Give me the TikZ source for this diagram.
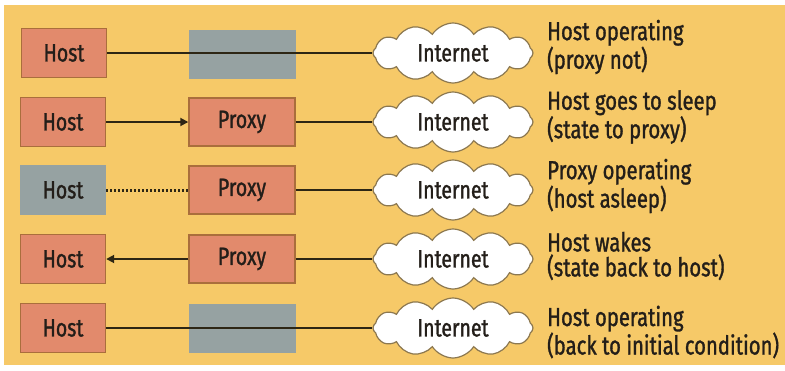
\documentclass[tikz,border=0pt]{standalone}
\usepackage{fontspec}
\setmainfont[FakeStretch=0.78,FakeBold=1.2]{Fira Sans}
\usetikzlibrary{shapes.symbols,arrows.meta}
\definecolor{bgyellow}{RGB}{246,201,104}
\definecolor{salmon}{RGB}{226,138,108}
\definecolor{salmonedge}{RGB}{170,110,60}
\definecolor{grayfill}{RGB}{150,162,162}
\definecolor{linecol}{RGB}{45,38,20}
\definecolor{cloudedge}{RGB}{140,120,80}
\definecolor{textcol}{RGB}{35,30,25}
\tikzset{
  boxfont/.style={font=\fontsize{25}{25}\selectfont, text=textcol},
  hostbox/.style={draw=salmonedge, line width=1.4pt, fill=salmon, minimum width=85pt, minimum height=49pt, inner sep=0pt, boxfont},
  proxybox/.style={draw=salmonedge, line width=1.4pt, fill=salmon, minimum width=106pt, minimum height=48pt, inner sep=0pt, boxfont},
  grayhost/.style={fill=grayfill, minimum width=86pt, minimum height=50pt, inner sep=0pt, boxfont},
  grayproxy/.style={fill=grayfill, minimum width=107pt, minimum height=49pt, inner sep=0pt},
  netcloud/.style={cloud, cloud puffs=12, cloud puff arc=115, aspect=2.7, draw=cloudedge, line width=1.2pt, fill=white, minimum width=160pt, minimum height=60pt, inner sep=0pt, boxfont},
  caption/.style={anchor=west, align=left, inner sep=0pt, font=\fontsize{26}{25}\selectfont, text=textcol},
  conn/.style={draw=linecol, line width=1.8pt},
  arr/.style={conn, -{Triangle[length=8pt,width=8pt]}},
  dotconn/.style={draw=linecol, line width=3pt, dash pattern=on 2pt off 2pt}
}
\begin{document}
\begin{tikzpicture}[x=1pt,y=-1pt]
\useasboundingbox (0,0) rectangle (785,370);
\fill[white] (0,0) rectangle (785,370);
\fill[bgyellow] (4,5) rectangle (785,365);
% row 1
\node[hostbox] (h1) at (64,53) {Host};
\node[grayproxy] (p1) at (242,54) {};
\node[netcloud] (c1) at (453,53) {Internet};
\node[caption] (t1) at (547,47) {Host operating\\(proxy not)};
\draw[conn] (h1.east) -- (c1.west);
% row 2
\node[hostbox] (h2) at (63,122) {Host};
\node[proxybox] (p2) at (242,122) {Proxy};
\node[netcloud] (c2) at (453,122) {Internet};
\node[caption] (t2) at (547,117) {Host goes to sleep\\(state to proxy)};
\draw[arr] (h2.east) -- (p2.west);
\draw[conn] (p2.east) -- (c2.west);
% row 3
\node[grayhost] (h3) at (63,190) {Host};
\node[proxybox] (p3) at (242,190) {Proxy};
\node[netcloud] (c3) at (453,190) {Internet};
\node[caption] (t3) at (547,186) {Proxy operating\\(host asleep)};
\draw[dotconn] (h3.east) -- (p3.west);
\draw[conn] (p3.east) -- (c3.west);
% row 4
\node[hostbox] (h4) at (63,259) {Host};
\node[proxybox] (p4) at (242,259) {Proxy};
\node[netcloud] (c4) at (453,259) {Internet};
\node[caption] (t4) at (547,256) {Host wakes\\(state back to host)};
\draw[arr] (p4.west) -- (h4.east);
\draw[conn] (p4.east) -- (c4.west);
% row 5
\node[hostbox] (h5) at (63,328) {Host};
\node[grayproxy] (p5) at (242,328) {};
\node[netcloud] (c5) at (453,328) {Internet};
\node[caption] (t5) at (547,332) {Host operating\\(back to initial condition)};
\draw[conn] (h5.east) -- (c5.west);
\end{tikzpicture}
\end{document}
